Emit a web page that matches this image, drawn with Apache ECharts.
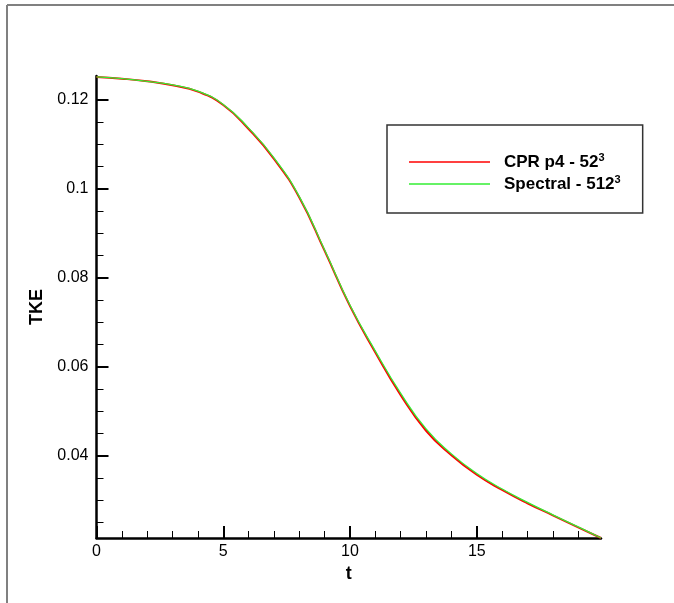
<!DOCTYPE html>
<html>
<head>
<meta charset="utf-8">
<script src="https://cdn.jsdelivr.net/npm/echarts@6/dist/echarts.min.js"></script>
<style>
html,body{margin:0;padding:0;background:#fff;}
#chart{width:674px;height:603px;}
</style>
</head>
<body>
<div id="chart"></div>
<script>
// Data
var tValues = [0, 1, 2, 3, 4, 5, 6, 7, 8, 9, 10, 11, 12, 13, 14, 15, 16, 17, 18, 19, 19.9];
var cprP4 = [0.1251, 0.1247, 0.1241, 0.1232, 0.1218, 0.1188, 0.1134, 0.1067, 0.0980, 0.0860, 0.0736, 0.0632, 0.0536, 0.0456, 0.0401, 0.0357, 0.0323, 0.0293, 0.0266, 0.0239, 0.0215];
var spectral = [0.1251, 0.1247, 0.1241, 0.1233, 0.1219, 0.1189, 0.1136, 0.1069, 0.0982, 0.0862, 0.0738, 0.0635, 0.0540, 0.0460, 0.0404, 0.0360, 0.0325, 0.0295, 0.0267, 0.0240, 0.0215];
var xMajorTicks = [0, 5, 10, 15];
var xMinorTicks = [1, 2, 3, 4, 6, 7, 8, 9, 11, 12, 13, 14, 16, 17, 18, 19];
var yMajorTicks = [0.04, 0.06, 0.08, 0.1, 0.12];
var yMinorTicks = [0.025, 0.03, 0.035, 0.045, 0.05, 0.055, 0.065, 0.07, 0.075, 0.085, 0.09, 0.095, 0.105, 0.11, 0.115];
var seriesNames = ['CPR p4 - 52', 'Spectral - 512'];
var xRange = [0, 19.9];
var yRange = [0.0215, 0.1253];

function zip(xs, ys) { return xs.map(function (x, i) { return [x, ys[i]]; }); }

var chart = echarts.init(document.getElementById('chart'), null, {renderer: 'canvas'});
var font = 'Liberation Sans, Arial, Helvetica, sans-serif';

var option = {
  backgroundColor: '#ffffff',
  animation: false,
  grid: {left: 96.5, right: 73, top: 76, bottom: 65, containLabel: false},
  legend: {
    left: 387, top: 125,
    orient: 'vertical',
    padding: [27, 22, 19, 22],
    itemGap: 2,
    itemWidth: 81, itemHeight: 1.5,
    icon: 'rect',
    borderColor: '#333', borderWidth: 1.5,
    data: seriesNames,
    formatter: function (n) { return '{a|' + n + '}{s|3}'; },
    textStyle: {
      fontFamily: font, fontWeight: 'bold', fontSize: 17, color: '#000', lineHeight: 20,
      rich: {
        a: {fontFamily: font, fontWeight: 'bold', fontSize: 17, color: '#000', lineHeight: 20, padding: [0, 0, 0, 9]},
        s: {fontFamily: font, fontWeight: 'bold', fontSize: 11, color: '#000', lineHeight: 20, verticalAlign: 'top', padding: [0, 0, 0, 0]}
      }
    }
  },
  xAxis: [
    {
      type: 'value', min: xRange[0], max: xRange[1],
      name: 't', nameLocation: 'middle', nameGap: 26,
      nameTextStyle: {fontFamily: font, fontWeight: 'bold', fontSize: 18, color: '#000'},
      axisLine: {show: true, onZero: false, lineStyle: {color: '#000', width: 2.5}},
      axisTick: {show: true, inside: true, length: 12, customValues: xMajorTicks, lineStyle: {color: '#000', width: 2}},
      axisLabel: {show: true, customValues: xMajorTicks, margin: 6, fontFamily: font, fontSize: 16, color: '#000'},
      splitLine: {show: false}
    },
    {
      type: 'value', min: xRange[0], max: xRange[1], position: 'bottom',
      axisLine: {show: false},
      axisTick: {show: true, inside: true, length: 7, customValues: xMinorTicks, lineStyle: {color: '#000', width: 1}},
      axisLabel: {show: false},
      splitLine: {show: false}
    }
  ],
  yAxis: [
    {
      type: 'value', min: yRange[0], max: yRange[1],
      name: 'TKE', nameLocation: 'middle', nameGap: 31, nameRotate: 90,
      nameTextStyle: {fontFamily: font, fontWeight: 'bold', fontSize: 18, color: '#000'},
      axisLine: {show: true, onZero: false, lineStyle: {color: '#000', width: 2.5}},
      axisTick: {show: true, inside: true, length: 12, customValues: yMajorTicks, lineStyle: {color: '#000', width: 2}},
      axisLabel: {show: true, customValues: yMajorTicks, margin: 8, fontFamily: font, fontSize: 16, color: '#000',
        formatter: function (v) { return String(+v.toFixed(3)); }},
      splitLine: {show: false}
    },
    {
      type: 'value', min: yRange[0], max: yRange[1], position: 'left',
      axisLine: {show: false},
      axisTick: {show: true, inside: true, length: 7, customValues: yMinorTicks, lineStyle: {color: '#000', width: 1}},
      axisLabel: {show: false},
      splitLine: {show: false}
    }
  ],
  series: [
    {
      name: seriesNames[0], type: 'line', xAxisIndex: 0, yAxisIndex: 0,
      data: zip(tValues, cprP4), smooth: 0.5, showSymbol: false, symbol: 'none',
      color: '#ff0000', lineStyle: {color: '#ff0000', width: 2}
    },
    {
      name: seriesNames[1], type: 'line', xAxisIndex: 0, yAxisIndex: 0,
      data: zip(tValues, spectral), smooth: 0.5, showSymbol: false, symbol: 'none',
      color: '#33ee33', lineStyle: {color: '#33ee33', width: 1.3}
    }
  ],
  graphic: [
    {type: 'line', shape: {x1: 7, y1: 5, x2: 674, y2: 5}, style: {stroke: '#808080', lineWidth: 2}, silent: true},
    {type: 'line', shape: {x1: 7, y1: 5, x2: 7, y2: 603}, style: {stroke: '#808080', lineWidth: 2}, silent: true}
  ]
};
chart.setOption(option);
</script>
</body>
</html>
